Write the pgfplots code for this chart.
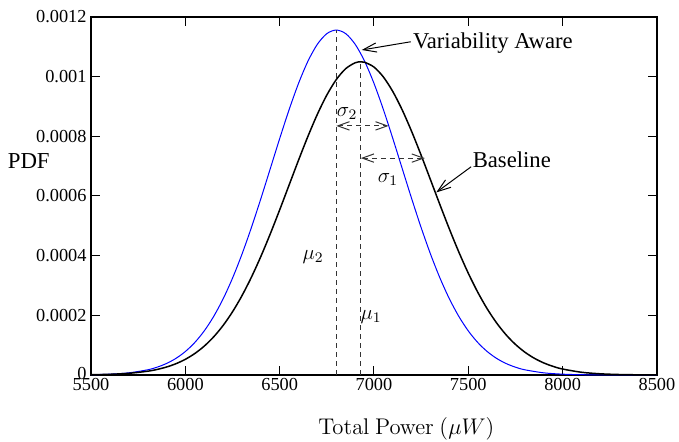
\RequirePackage{fix-cm}
\documentclass[border=0pt]{standalone}
\usepackage[no-math]{fontspec}
\setmainfont{Liberation Serif}
\usepackage{pgfplots}
\usepackage{pgfplotstable}
\pgfplotsset{compat=1.18}
\usetikzlibrary{arrows.meta}

\pgfplotstableread{
x y
5500 8.83e-7
5600 2.296e-6
5700 5.573e-6
5800 1.2617e-5
5850 1.850e-5
5900 2.665e-5
5950 3.775e-5
6000 5.254e-5
6050 7.189e-5
6100 9.664e-5
6150 1.2770e-4
6200 1.6586e-4
6250 2.1172e-4
6300 2.6563e-4
6350 3.2753e-4
6400 3.9691e-4
6450 4.7277e-4
6500 5.5341e-4
6550 6.3675e-4
6600 7.2003e-4
6650 8.0021e-4
6700 8.7411e-4
6750 9.3840e-4
6800 9.9014e-4
6850 1.02679e-3
6900 1.04654e-3
6930 1.04980e-3
6950 1.04835e-3
7000 1.03214e-3
7050 9.9874e-4
7100 9.4983e-4
7150 8.8782e-4
7200 8.1560e-4
7250 7.3641e-4
7300 6.5349e-4
7350 5.6995e-4
7400 4.8858e-4
7450 4.1161e-4
7500 3.4082e-4
7550 2.7737e-4
7600 2.2184e-4
7650 1.7440e-4
7700 1.3474e-4
7750 1.0232e-4
7800 7.636e-5
7850 5.601e-5
7900 4.038e-5
7950 2.862e-5
8000 1.993e-5
8100 9.17e-6
8200 3.94e-6
8300 1.58e-6
8400 5.9e-7
8500 2.1e-7
}\baseline

\pgfplotstableread{
x y
5500 9.55e-7
5600 2.729e-6
5700 7.171e-6
5800 1.7326e-5
5850 2.6097e-5
5900 3.8489e-5
5950 5.5583e-5
6000 7.861e-5
6050 1.0885e-4
6100 1.4761e-4
6150 1.9601e-4
6200 2.5485e-4
6250 3.2449e-4
6300 4.0456e-4
6350 4.9389e-4
6400 5.9043e-4
6450 6.9117e-4
6500 7.9227e-4
6550 8.8930e-4
6600 9.7746e-4
6650 1.05203e-3
6700 1.10873e-3
6750 1.14422e-3
6800 1.15630e-3
6850 1.14422e-3
6900 1.10873e-3
6950 1.05203e-3
7000 9.7746e-4
7050 8.8930e-4
7100 7.9227e-4
7150 6.9117e-4
7200 5.9043e-4
7250 4.9389e-4
7300 4.0456e-4
7350 3.2449e-4
7400 2.5485e-4
7450 1.9601e-4
7500 1.4761e-4
7550 1.0885e-4
7600 7.861e-5
7650 5.5583e-5
7700 3.8489e-5
7750 2.6097e-5
7800 1.7326e-5
7900 7.171e-6
8000 2.729e-6
8100 9.55e-7
8200 3.07e-7
8300 9.1e-8
8400 2.5e-8
8500 5e-9
}\aware

\begin{document}
\begin{tikzpicture}
\begin{axis}[
  scale only axis,
  width=339.6pt, height=214.8pt,
  xmin=5500, xmax=8500, ymin=0, ymax=0.0012,
  xtick={5500,6000,6500,7000,7500,8000,8500},
  xticklabels={5500,6000,6500,7000,7500,8000,8500},
  ytick={0,0.0002,0.0004,0.0006,0.0008,0.001,0.0012},
  yticklabels={\raisebox{2pt}{0},0.0002,0.0004,0.0006,0.0008,0.001,0.0012},
  scaled y ticks=false, scaled x ticks=false,
  tick align=inside,
  major tick length=5.4pt,
  tick style={black, line width=0.6pt},
  axis line style={line width=0.8pt},
  ticklabel style={font=\fontsize{11}{13}\selectfont},
  xticklabel style={inner sep=2pt},
  yticklabel style={inner sep=2.5pt},
  xlabel={\fontsize{13.6}{16}\selectfont$\mathrm{Total\ Power}\ (\mu W)$},
  xlabel style={at={(axis description cs:0.557,-0.1508)}, anchor=center, inner sep=0pt},
  ylabel={\fontsize{13.7}{16}\selectfont PDF},
  ylabel style={rotate=-90, at={(axis description cs:-0.0724,0.599)}, anchor=east, inner sep=0pt},
  clip=false,
]
\path (axis description cs:-0.1608,-0.1844) rectangle (axis description cs:1.0389,1.0475);
\addplot[blue, line width=0.6pt, smooth] table[x=x,y=y] {\aware};
\addplot[black, line width=0.9pt, smooth] table[x=x,y=y] {\baseline};
% mean lines
\draw[black!80, line width=0.6pt, dash pattern=on 3pt off 2.4pt] (axis cs:6800,0) -- (axis cs:6800,0.001156);
\draw[black!80, line width=0.6pt, dash pattern=on 3pt off 2.4pt] (axis cs:6930,0) -- (axis cs:6930,0.00105);
% sigma arrows
\draw[black!80, line width=0.6pt, dash pattern=on 3pt off 2.4pt, {Straight Barb[length=7pt,width=5pt]}-{Straight Barb[length=7pt,width=5pt]}] (axis cs:6800,0.000835) -- (axis cs:7078,0.000835);
\draw[black!80, line width=0.6pt, dash pattern=on 3pt off 2.4pt, {Straight Barb[length=7pt,width=5pt]}-{Straight Barb[length=7pt,width=5pt]}] (axis cs:6930,0.000727) -- (axis cs:7270,0.000727);
\node[font=\fontsize{12.5}{14}\selectfont] at (axis cs:6857,0.000875) {$\sigma_2$};
\node[font=\fontsize{12.5}{14}\selectfont] at (axis cs:7074,0.000654) {$\sigma_1$};
\node[font=\fontsize{12.5}{14}\selectfont] at (axis cs:6677,0.000396) {$\mu_2$};
\node[font=\fontsize{12.5}{14}\selectfont] at (axis cs:6984,0.000194) {$\mu_1$};
% labels with arrows
\node[anchor=west, font=\fontsize{13.6}{15}\selectfont, inner sep=0pt] at (axis cs:7205,0.001113) {Variability Aware};
\draw[line width=0.6pt, -{Straight Barb[length=8pt,width=5.5pt]}] (axis cs:7195,0.001117) -- (axis cs:6935,0.0010894);
\node[anchor=west, font=\fontsize{13.6}{15}\selectfont, inner sep=0pt] at (axis cs:7522,0.000721) {Baseline};
\draw[line width=0.6pt, -{Straight Barb[length=8pt,width=5.5pt]}] (axis cs:7515,0.000698) -- (axis cs:7330,0.000612);
\end{axis}
\end{tikzpicture}
\end{document}
